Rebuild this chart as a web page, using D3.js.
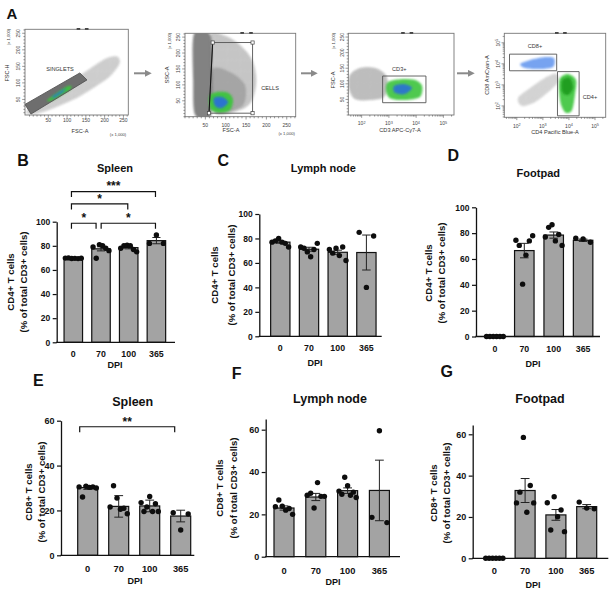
<!DOCTYPE html>
<html>
<head>
<meta charset="utf-8">
<script src="https://cdn.jsdelivr.net/npm/d3@7"></script>
<style>
  body { margin: 0; background: #fff; }
  svg { display: block; }
  text { font-family: "Liberation Sans", Arial, Helvetica, sans-serif; }
</style>
</head>
<body>
<svg id="fig" width="616" height="593"></svg>
<script>
// ---------- data ----------
const dpiLabels = ['0', '70', '100', '365'];
const cd4Ticks = [0, 20, 40, 60, 80, 100];
const cd8Ticks = [0, 20, 40, 60];

// B - spleen CD4
const spleenCd4Mean = [69.6, 77.5, 78.5, 84.3];
const spleenCd4Sem = [0.2, 1.7, 1.0, 2.6];
const spleenCd4Pts = [[69.8, 70, 69.5, 69.6, 69.4, 69.7], [79, 69.7, 81, 80, 78, 76], [78, 80, 80.5, 80, 77, 75], [82, 89, 82]];
const spleenCd4Sig = [
  { from: 0, to: 3, at: 125, label: '***' },
  { from: 0, to: 2, at: 114.7, label: '*' },
  { from: 0, to: 1, at: 98.7, label: '*' },
  { from: 1, to: 3, at: 98.7, label: '*' }
];

// C - lymph node CD4
const lymphCd4Mean = [77, 71.2, 68.7, 68.5];
const lymphCd4Sem = [0.9, 1.6, 1.7, 14.3];
const lymphCd4Pts = [[77, 78, 80, 77, 76, 73], [73, 72, 69, 65, 71, 76], [71, 68, 72, 66, 73, 62], [85, 40, 82]];

// D - footpad CD4
const footCd4Mean = [0, 66.5, 78.5, 74.5];
const footCd4Sem = [0, 5.6, 2.4, 0.9];
const footCd4Pts = [[0, 0, 0, 0, 0, 0], [74.5, 70.5, 40.5, 63, 74, 78], [77, 84.5, 86.5, 74, 79, 70.5], [76, 75.5, 73]];

// E - spleen CD8
const spleenCd8Mean = [30.2, 21.8, 22, 17.5];
const spleenCd8Sem = [0.8, 4.8, 2.6, 2.6];
const spleenCd8Pts = [[30.5, 26, 30.8, 30.3, 30.5, 30], [21.5, 31, 25.5, 20.5, 21, 18.5], [23.5, 19.5, 21.5, 26.2, 19.5, 23, 19.5], [19, 11.3, 18.4]];
const spleenCd8Sig = [{ from: 0, to: 3, at: 57.3, label: '**' }];

// F - lymph node CD8
const lymphCd8Mean = [23, 28.2, 31.2, 31.3];
const lymphCd8Sem = [1, 1.7, 1.3, 14.3];
const lymphCd8Pts = [[23.6, 26.8, 23.8, 22, 22.8, 20], [29, 30, 23, 35, 28.5, 28.5], [31, 29.5, 37.5, 33.5, 29, 30.5, 28], [18.6, 59.5, 16.1]];

// G - footpad CD8
const footCd8Mean = [0, 32.8, 21, 25];
const footCd8Sem = [0, 5.8, 2.6, 1];
const footCd8Pts = [[0, 0, 0, 0, 0, 0], [26.8, 32, 58.5, 22.3, 35.2, 26.8], [26.9, 13.7, 29.8, 20.1, 23.4, 12.9], [27.2, 24.3, 24]];

// A - gating outlines (linear axes in x1000 units, log axes as log10 of intensity)
const fscTicks = [50, 100, 150, 200, 250];
const decadeTicks = [2, 3, 4, 5];

const singletsHalo = [[-9, 12], [28, 48], [81, 85], [148, 133], [201, 172], [232, 180], [240, 160], [215, 121], [174, 88], [121, 52], [68, 26], [15, 6]];
const singletsGate = [[-12, 35], [134, 130], [153, 109], [4, 6]];
const singletsGreen = [[47, 48], [68, 66], [97, 88], [111, 91], [108, 79], [81, 60], [55, 45]];
const singletsBlue = [[60, 57], [81, 73], [97, 82], [87, 70], [68, 57]];

const cellsDebris = [[22, 260], [61, 260], [66, 178], [64, 5], [25, 5], [20, 115]];
const cellsHalo = [[61, 254], [98, 254], [135, 225], [165, 178], [175, 115], [165, 52], [135, 21], [74, 12], [61, 115]];
const cellsCore = [[66, 147], [111, 140], [147, 100], [143, 37], [98, 15], [66, 27]];
const cellsGreen = [[61, 68], [81, 78], [106, 75], [118, 53], [111, 21], [86, 12], [64, 21], [59, 46]];
const cellsBlue = [[71, 59], [91, 62], [106, 46], [91, 27], [74, 34]];
const cellsGate = [[68, 233], [166, 233], [166, 11], [59, 11]];

const cd3Neg = [[1.57, 128], [1.94, 151], [2.49, 151], [2.86, 131], [2.97, 96], [2.82, 58], [2.31, 48], [1.75, 51], [1.53, 87]];
const cd3Green = [[2.97, 106], [3.41, 115], [3.96, 112], [4.22, 93], [4.14, 58], [3.59, 48], [3.04, 54], [2.89, 80]];
const cd3Blue = [[3.19, 93], [3.59, 99], [3.85, 87], [3.59, 67], [3.22, 71]];
const cd3Gate = [[2.77, 125], [4.36, 125], [4.36, 39.4], [2.77, 39.4]];

const cd48Neg = [[2.05, 2.38], [2.51, 2.85], [3.08, 3.33], [3.51, 3.52], [3.58, 3.14], [3.2, 2.66], [2.7, 2.19], [2.2, 2.0]];
const cd8Blue = [[2.13, 3.99], [2.51, 4.18], [3.08, 4.32], [3.43, 4.27], [3.39, 3.85], [2.89, 3.75], [2.32, 3.8]];
const cd4Green = [[3.66, 3.33], [3.97, 3.52], [4.27, 3.23], [4.23, 2.52], [4.12, 1.81], [3.89, 1.67], [3.7, 2.05], [3.62, 2.76]];
const cd4Core = [[3.74, 3.23], [4.04, 3.33], [4.16, 2.85], [3.97, 2.52], [3.74, 2.66]];
const cd8Gate = [[1.72, 4.46], [3.53, 4.46], [3.53, 3.67], [1.72, 3.67]];
const cd4Gate = [[3.56, 3.63], [4.39, 3.63], [4.39, 1.53], [3.56, 1.53]];

// ---------- setup ----------
const svg = d3.select('#fig');
const defs = svg.append('defs');
defs.append('filter').attr('id', 'soft').attr('x', '-30%').attr('y', '-30%').attr('width', '160%').attr('height', '160%')
  .append('feGaussianBlur').attr('stdDeviation', 0.9);
defs.append('marker').attr('id', 'head').attr('viewBox', '0 0 10 10')
  .attr('refX', 3).attr('refY', 5).attr('markerWidth', 3.4).attr('markerHeight', 3.4).attr('orient', 'auto')
  .append('path').attr('d', 'M0,0L10,5L0,10z').attr('fill', '#8a8a8a');
// speckle texture so the gray clouds read as scattered events
const speck = defs.append('pattern').attr('id', 'speck').attr('patternUnits', 'userSpaceOnUse')
  .attr('width', 2.6).attr('height', 2.2);
speck.append('circle').attr('cx', 0.7).attr('cy', 0.6).attr('r', 0.5).attr('fill', '#666');
speck.append('circle').attr('cx', 2.0).attr('cy', 1.7).attr('r', 0.45).attr('fill', '#777');

const FONT = '"Liberation Sans", Arial, sans-serif';

function label(g, x, y, txt, size, opts = {}) {
  return g.append('text')
    .attr('transform', `translate(${x},${y})` + (opts.rot ? ' rotate(-90)' : ''))
    .attr('dy', '0.35em').attr('text-anchor', opts.anchor || 'middle')
    .attr('font-size', size).attr('font-weight', opts.bold ? 'bold' : 'normal')
    .attr('fill', opts.fill || '#111').text(txt);
}

// ---------- panel A: flow plots ----------
const flowPlots = [
  { frame: [25, 29.3, 128.3, 115], xDom: [-12, 263], yDom: [3, 262], xLog: false, yLog: false,
    clouds: [
      { pts: singletsHalo, fill: '#a8a8a8', op: 0.45, speck: true },
      { pts: singletsGate, fill: '#6e6e6e', op: 1, sharp: true },
      { pts: singletsGreen, fill: '#3cc43c', op: 0.95 },
      { pts: singletsBlue, fill: '#2a6fd6', op: 0.95 }],
    gates: [singletsGate], handles: false, gateText: ['SINGLETS', 60, 69.3],
    yTitle: ['FSC-H', 7, 73], yNote: [8.5, 37], xTitle: ['FSC-A', 80, 131], xNote: [118, 135], xlabDy: 5.5 },
  { frame: [185, 33.3, 295.7, 116.7], xDom: [0, 272], yDom: [0, 262], xLog: false, yLog: false,
    clouds: [
      { pts: cellsHalo, fill: '#a8a8a8', op: 0.55, speck: true },
      { pts: cellsCore, fill: '#8a8a8a', op: 0.55 },
      { pts: cellsDebris, fill: '#7c7c7c', op: 0.95 },
      { pts: cellsGreen, fill: '#3cc43c', op: 0.95 },
      { pts: cellsBlue, fill: '#2a6fd6', op: 0.95 }],
    gates: [cellsGate], handles: true, gateText: ['CELLS', 270, 88.3],
    yTitle: ['SSC-A', 166.7, 75], yNote: [170, 41], xTitle: ['FSC-A', 231, 130], xNote: [286.7, 134], xlabDy: 8.5 },
  { frame: [348.3, 33.3, 454, 115], xDom: [1.51, 5.39], yDom: [0, 262], xLog: true, yLog: false,
    clouds: [
      { pts: cd3Neg, fill: '#a0a0a0', op: 0.6, speck: true },
      { pts: cd3Green, fill: '#3cc43c', op: 0.9 },
      { pts: cd3Blue, fill: '#2a6fd6', op: 0.9 }],
    gates: [cd3Gate], handles: false, gateText: ['CD3+', 399.3, 69.3],
    yTitle: ['FSC-A', 333.3, 80], yNote: [333.3, 41], xTitle: ['CD3 APC-Cy7-A', 400, 130], xlabDy: 8.5 },
  { frame: [504.3, 33.3, 605.7, 117.3], xDom: [1.52, 5.41], yDom: [1.46, 5.45], xLog: true, yLog: true,
    clouds: [
      { pts: cd48Neg, fill: '#bcbcbc', op: 0.5, speck: true },
      { pts: cd8Blue, fill: '#6f9ff0', op: 0.95 },
      { pts: cd4Green, fill: '#45c845', op: 0.95 },
      { pts: cd4Core, fill: '#1f9a1f', op: 0.9 }],
    gates: [cd8Gate, cd4Gate], handles: false, gateText: ['CD8+', 535, 46], gateText2: ['CD4+', 590, 96.7],
    yTitle: ['CD8 AmCyan-A', 486.7, 75], xTitle: ['CD4 Pacific Blue-A', 555, 131.7], xlabDy: 9 }
];

const logMinor = dom => {
  const out = [];
  for (let k = Math.floor(dom[0]); k <= Math.ceil(dom[1]); k++)
    for (let m = 1; m <= 9; m++) {
      const v = k + Math.log10(m);
      if (v >= dom[0] && v <= dom[1]) out.push(v);
    }
  return out;
};

function tickText(sel, log) {
  sel.each(function (d) {
    const t = d3.select(this);
    if (log) {
      t.text('10');
      t.append('tspan').attr('dy', '-0.45em').attr('font-size', '0.75em').text(d);
    } else t.text(d);
  });
}

function flowPlot(f, i) {
  const [l, t, r, b] = f.frame;
  const g = svg.append('g').attr('font-family', FONT);
  const x = d3.scaleLinear().domain(f.xDom).range([l, r]);
  const y = d3.scaleLinear().domain(f.yDom).range([b, t]);
  const smooth = d3.line().x(d => x(d[0])).y(d => y(d[1])).curve(d3.curveCardinalClosed.tension(0.1));
  const poly = d3.line().x(d => x(d[0])).y(d => y(d[1])).curve(d3.curveLinearClosed);

  defs.append('clipPath').attr('id', 'clip' + i)
    .append('rect').attr('x', l).attr('y', t).attr('width', r - l).attr('height', b - t);
  const inner = g.append('g').attr('clip-path', `url(#clip${i})`);
  f.clouds.forEach(c => {
    inner.append('path').datum(c.pts).attr('d', c.sharp ? poly : smooth)
      .attr('fill', c.fill).attr('opacity', c.op).attr('filter', c.sharp ? null : 'url(#soft)');
    if (c.speck) {
      inner.append('path').datum(c.pts).attr('d', smooth)
        .attr('fill', 'url(#speck)').attr('opacity', 0.45).attr('filter', 'url(#soft)');
    }
  });

  g.append('rect').attr('x', l).attr('y', t).attr('width', r - l).attr('height', b - t)
    .attr('fill', 'none').attr('stroke', '#777').attr('stroke-width', 0.9);
  // small marks on top edge
  [0.5, 0.58].forEach(fr => g.append('rect').attr('x', l + (r - l) * fr).attr('y', t - 1.2)
    .attr('width', 3.6).attr('height', 1.6).attr('fill', '#333'));

  f.gates.forEach(gt => {
    g.append('path').datum(gt).attr('d', poly).attr('fill', 'none')
      .attr('stroke', '#555').attr('stroke-width', 0.9);
    if (f.handles) {
      g.append('line').attr('x1', x(gt[0][0])).attr('y1', y(gt[0][1])).attr('x2', x(gt[3][0])).attr('y2', y(gt[3][1]))
        .attr('stroke', '#111').attr('stroke-width', 1);
      g.selectAll(null).data(gt).join('rect')
        .attr('x', d => x(d[0]) - 1.6).attr('y', d => y(d[1]) - 1.6).attr('width', 3.2).attr('height', 3.2)
        .attr('fill', '#fff').attr('stroke', '#444').attr('stroke-width', 0.7);
    }
  });
  [f.gateText, f.gateText2].filter(Boolean).forEach(gtx => label(g, gtx[1], gtx[2], gtx[0], 5.6, { fill: '#333' }));

  // ticks
  const minorX = f.xLog ? logMinor(f.xDom) : d3.range(0, f.xDom[1], 10).filter(v => v >= f.xDom[0]);
  const majorX = f.xLog ? decadeTicks : fscTicks;
  const minorY = f.yLog ? logMinor(f.yDom) : d3.range(0, f.yDom[1], 10).filter(v => v >= f.yDom[0]);
  const majorY = f.yLog ? decadeTicks : fscTicks;
  g.selectAll(null).data(minorX).join('line')
    .attr('x1', d => x(d)).attr('x2', d => x(d)).attr('y1', b)
    .attr('y2', d => b + (majorX.includes(d) ? 2.8 : 1.6)).attr('stroke', '#555').attr('stroke-width', 0.6);
  g.selectAll(null).data(minorY).join('line')
    .attr('y1', d => y(d)).attr('y2', d => y(d)).attr('x1', l)
    .attr('x2', d => l - (majorY.includes(d) ? 2.8 : 1.6)).attr('stroke', '#555').attr('stroke-width', 0.6);

  g.selectAll(null).data(majorX).join('text')
    .attr('x', d => x(d)).attr('y', b + f.xlabDy).attr('dy', '0.35em').attr('text-anchor', 'middle')
    .attr('font-size', 5).attr('fill', '#444').call(s => tickText(s, f.xLog));
  g.selectAll(null).data(majorY).join('text')
    .attr('transform', d => `translate(${l - 6.5},${y(d)}) rotate(-90)`).attr('dy', '0.35em').attr('text-anchor', 'middle')
    .attr('font-size', 5).attr('fill', '#444').call(s => tickText(s, f.yLog));

  label(g, f.yTitle[1], f.yTitle[2], f.yTitle[0], 5.6, { rot: true, fill: '#333' });
  if (f.yNote) label(g, f.yNote[0], f.yNote[1], '(x 1,000)', 4.2, { rot: true, fill: '#444' });
  label(g, f.xTitle[1], f.xTitle[2], f.xTitle[0], 5.6, { fill: '#333' });
  if (f.xNote) label(g, f.xNote[0], f.xNote[1], '(x 1,000)', 4.2, { fill: '#444' });
}

flowPlots.forEach(flowPlot);

// arrows between gating plots
const arrowSpans = [[134, 147], [301, 313], [457, 470]];
arrowSpans.forEach(a => svg.append('line').attr('x1', a[0]).attr('x2', a[1]).attr('y1', 73.3).attr('y2', 73.3)
  .attr('stroke', '#8a8a8a').attr('stroke-width', 2).attr('marker-end', 'url(#head)'));

label(svg, 12, 13.5, 'A', 15, { bold: true });

// ---------- panels B-G: bar charts ----------
const barPanels = [
  { letter: 'B', lx: 23, ly: 160, title: 'Spleen', tx: 115, ty: 168.3, tSize: 11,
    mean: spleenCd4Mean, sem: spleenCd4Sem, pts: spleenCd4Pts, ticks: cd4Ticks, yMax: 100,
    ylab: ['CD4+ T cells', '(% of total CD3+ cells)'], labX: [11, 24], labY: 282,
    ax: 56.7, x0: 73.3, step: 27.7, bw: 18.5, xEnd: 175, y0: 342.3, yTop: 221.7,
    tickDy: 12, dpiDy: 23, dpiX: 115, fs: 8.5, sig: spleenCd4Sig, fromFrac: 0.4, toFrac: 0.45 },
  { letter: 'C', lx: 223.3, ly: 160, title: 'Lymph node', tx: 323.3, ty: 168.3, tSize: 11,
    mean: lymphCd4Mean, sem: lymphCd4Sem, pts: lymphCd4Pts, ticks: cd4Ticks, yMax: 100,
    ylab: ['CD4+ T cells', '(% of total CD3+ cells)'], labX: [215, 231.7], labY: 275,
    ax: 259.3, x0: 280.3, step: 28.7, bw: 19.3, xEnd: 381.7, y0: 336.3, yTop: 214,
    tickDy: 12, dpiDy: 27, dpiX: 315, fs: 8.5, sig: [] },
  { letter: 'D', lx: 453.3, ly: 155, title: 'Footpad', tx: 538.3, ty: 172.7, tSize: 11,
    mean: footCd4Mean, sem: footCd4Sem, pts: footCd4Pts, ticks: cd4Ticks, yMax: 100,
    ylab: ['CD4+ T cells', '(% of total CD3+ cells)'], labX: [428.3, 441.7], labY: 273,
    ax: 476, x0: 494.9, step: 29.4, bw: 19.5, xEnd: 600, y0: 336.5, yTop: 207.3,
    tickDy: 12.5, dpiDy: 27, dpiX: 533, fs: 8.5, sig: [] },
  { letter: 'E', lx: 38.3, ly: 380, title: 'Spleen', tx: 132.7, ty: 401.7, tSize: 12.5,
    mean: spleenCd8Mean, sem: spleenCd8Sem, pts: spleenCd8Pts, ticks: cd8Ticks, yMax: 60,
    ylab: ['CD8+ T cells', '(% of total CD3+ cells)'], labX: [28.3, 41.7], labY: 492,
    ax: 61, x0: 87.7, step: 31, bw: 20, xEnd: 194.3, y0: 555.3, yTop: 420.7,
    tickDy: 13, dpiDy: 25.5, dpiX: 135, fs: 9, sig: spleenCd8Sig, fromFrac: 0.1, toFrac: 0.2 },
  { letter: 'F', lx: 236.7, ly: 373.3, title: 'Lymph node', tx: 330, ty: 398.3, tSize: 12.5,
    mean: lymphCd8Mean, sem: lymphCd8Sem, pts: lymphCd8Pts, ticks: cd8Ticks, yMax: 65,
    ylab: ['CD8+ T cells', '(% of total CD3+ cells)'], labX: [219.3, 233.3], labY: 488,
    ax: 265.7, x0: 284, step: 31.8, bw: 20, xEnd: 400, y0: 556.7, yTop: 419.1,
    tickDy: 14, dpiDy: 25, dpiX: 333, fs: 9, sig: [] },
  { letter: 'G', lx: 446.7, ly: 371.7, title: 'Footpad', tx: 540, ty: 398.3, tSize: 12.5,
    mean: footCd8Mean, sem: footCd8Sem, pts: footCd8Pts, ticks: cd8Ticks, yMax: 64.5,
    ylab: ['CD8+ T cells', '(% of total CD3+ cells)'], labX: [433.3, 446.7], labY: 493,
    ax: 472.7, x0: 494.3, step: 30.8, bw: 20, xEnd: 608.3, y0: 558.3, yTop: 425,
    tickDy: 12.5, dpiDy: 26.7, dpiX: 533, fs: 9, sig: [] }
];

function barPanel(p) {
  const g = svg.append('g').attr('font-family', FONT);
  const pad = 1 - p.bw / p.step;
  const x = d3.scaleBand().domain(dpiLabels)
    .range([p.x0 - p.step / 2, p.x0 + p.step * 3.5]).paddingInner(pad).paddingOuter(pad / 2);
  const y = d3.scaleLinear().domain([0, p.yMax]).range([p.y0, p.yTop]);
  const bw = x.bandwidth();

  label(g, p.lx, p.ly, p.letter, 16, { bold: true });
  label(g, p.tx, p.ty, p.title, p.tSize, { bold: true });
  p.ylab.forEach((s, k) => label(g, p.labX[k], p.labY, s, 9.6, { rot: true, bold: true }));

  // bars
  g.selectAll('rect.bar').data(p.mean).join('rect').attr('class', 'bar')
    .attr('x', (d, i) => x(dpiLabels[i])).attr('width', bw)
    .attr('y', d => y(d)).attr('height', d => p.y0 - y(d))
    .attr('fill', '#a3a3a3').attr('stroke', '#111').attr('stroke-width', 1.2);

  // error bars (mean +/- sem)
  p.mean.forEach((m, i) => {
    if (!p.sem[i]) return;
    const cx = x(dpiLabels[i]) + bw / 2, cap = bw * 0.22;
    const hi = y(m + p.sem[i]), lo = y(m - p.sem[i]);
    g.append('path').attr('d', `M${cx},${lo}V${hi}M${cx - cap},${hi}H${cx + cap}M${cx - cap},${lo}H${cx + cap}`)
      .attr('fill', 'none').attr('stroke', '#222').attr('stroke-width', 1);
  });

  // individual animals
  p.pts.forEach((grp, i) => {
    const cx = x(dpiLabels[i]) + bw / 2, n = grp.length, span = bw * (n > 3 ? 0.86 : 0.75);
    g.selectAll(null).data(grp).join('circle')
      .attr('cx', (d, k) => n > 1 ? cx + (k / (n - 1) - 0.5) * span : cx)
      .attr('cy', d => y(d)).attr('r', 2.7).attr('fill', '#0d0d0d');
  });

  // axes
  const yAxis = g.append('g').attr('transform', `translate(${p.ax},0)`)
    .call(d3.axisLeft(y).tickValues(p.ticks).tickSize(4).tickSizeOuter(0).tickPadding(2.5));
  yAxis.attr('font-family', FONT);
  yAxis.select('.domain').attr('stroke', '#111').attr('stroke-width', 1.3);
  yAxis.selectAll('.tick line').attr('stroke', '#111').attr('stroke-width', 1.2);
  yAxis.selectAll('text').attr('font-size', p.fs).attr('font-weight', 'bold').attr('fill', '#111');

  g.append('line').attr('x1', p.ax - 0.6).attr('x2', p.xEnd).attr('y1', p.y0).attr('y2', p.y0)
    .attr('stroke', '#111').attr('stroke-width', 1.3);
  const xAxis = g.append('g').attr('transform', `translate(0,${p.y0})`)
    .call(d3.axisBottom(x).tickSize(0).tickPadding(p.tickDy - 3.3));
  xAxis.attr('font-family', FONT);
  xAxis.select('.domain').remove();
  xAxis.selectAll('text').attr('font-size', p.fs + 0.3).attr('font-weight', 'bold').attr('fill', '#111');
  label(g, p.dpiX, p.y0 + p.dpiDy, 'DPI', 9, { bold: true });

  // significance brackets
  p.sig.forEach(s => {
    let x1 = x(dpiLabels[s.from]) + bw * p.fromFrac;
    let x2 = x(dpiLabels[s.to]) + bw * p.toFrac;
    if (p.sig.some(o => o !== s && o.at === s.at && o.from === s.to)) x2 -= 4;
    if (p.sig.some(o => o !== s && o.at === s.at && o.to === s.from)) x1 += 2;
    const yy = y(s.at);
    g.append('path').attr('d', `M${x1},${yy + 5.5}V${yy}H${x2}V${yy + 5.5}`)
      .attr('fill', 'none').attr('stroke', '#111').attr('stroke-width', 1.2);
    g.append('text').attr('x', (x1 + x2) / 2).attr('y', yy - 1.2).attr('text-anchor', 'middle')
      .attr('font-size', 12).attr('font-weight', 'bold').attr('fill', '#111').text(s.label);
  });
}

barPanels.forEach(barPanel);
</script>
</body>
</html>
